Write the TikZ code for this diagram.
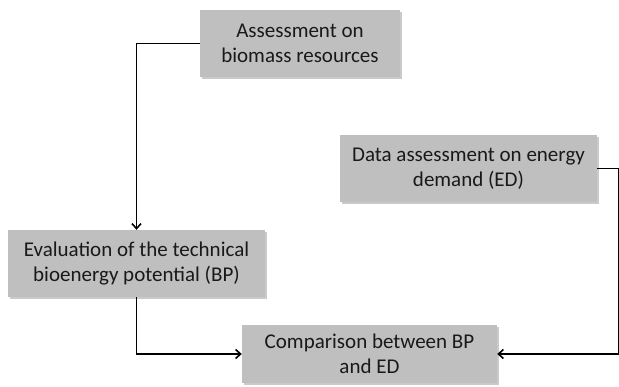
\documentclass[tikz,border=0pt]{standalone}
\usepackage{fontspec}
\setmainfont{Carlito}
\usetikzlibrary{arrows.meta,shadows}
\definecolor{boxgray}{RGB}{191,191,191}
\begin{document}
\begin{tikzpicture}
[x=1pt,y=-1pt,
  stagebox/.style={fill=boxgray,draw=none,align=center,inner sep=0pt,
    font=\fontsize{21}{25}\selectfont,text=black!90,
    drop shadow={shadow xshift=2pt,shadow yshift=-2pt,opacity=0.35,fill=black!60}},%
  flowline/.style={line width=1.6pt,-{Straight Barb[length=5pt,width=9pt]}}]
\useasboundingbox (0,0) rectangle (619,387);
%% stages
\node (assess) at (300,43.5) [stagebox,minimum width=200pt,minimum height=67pt]
  {Assessment on\\biomass resources};
\node (demand) at (468.5,168.5) [stagebox,minimum width=257pt,minimum height=67pt]
  {Data assessment on energy\\demand (ED)};
\node (potential) at (136.5,263.5) [stagebox,minimum width=257pt,minimum height=67pt]
  {Evaluation of the technical\\bioenergy potential (BP)};
\node (compare) at (369.5,354) [stagebox,minimum width=255pt,minimum height=58pt]
  {Comparison between BP\\and ED};
%% connectors
\coordinate (rightedge) at (619.2,354);
\draw[flowline] (assess.west) -| (potential.north);
\draw[flowline] (potential.south) |- (compare.west);
\draw[flowline] (demand.east) -| (rightedge) -- (compare.east);
\end{tikzpicture}
\end{document}
